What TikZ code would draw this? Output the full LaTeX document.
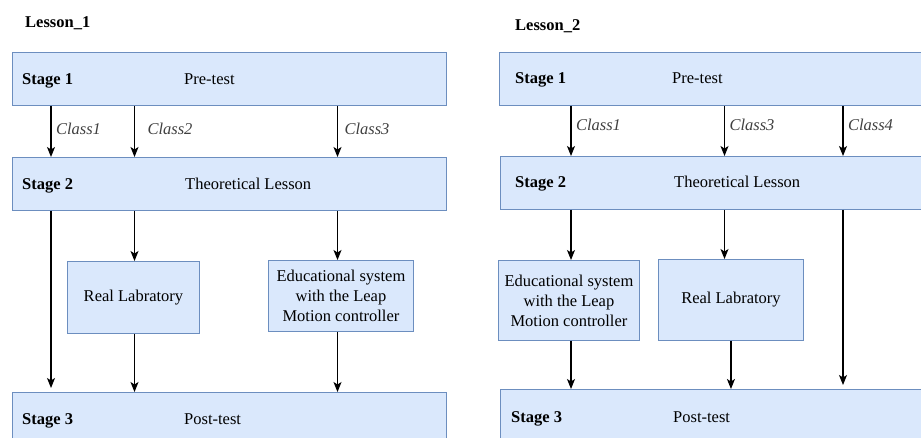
\documentclass[tikz,border=0pt]{standalone}
\usepackage{fontspec}
\setmainfont{Liberation Serif}
\usetikzlibrary{arrows.meta}
\definecolor{boxfill}{HTML}{DAE8FC}
\definecolor{boxline}{HTML}{6C8EBF}
\begin{document}
\begin{tikzpicture}[x=1pt,y=-1pt,
    every node/.style={font=\fontsize{16.5}{20}\selectfont},
    stage/.style={draw=boxline,fill=boxfill,line width=0.9pt,anchor=north west,
      inner sep=0pt,minimum height=60pt},
    block/.style={draw=boxline,fill=boxfill,line width=0.9pt,anchor=north west,
      inner sep=0pt,align=center},
    lbl/.style={anchor=base west,inner sep=0pt},
    cls/.style={midway,anchor=west,inner sep=0pt,xshift=4.5pt,yshift=3pt,
      font=\fontsize{16.5}{20}\selectfont\itshape,text=black!75},
    arr/.style={-{Stealth[length=10pt,width=8pt,inset=2.5pt]},line width=1.1pt}]
  \useasboundingbox (0,0) rectangle (921,438);
  \clip (0,0) rectangle (921,438);

  % Lesson 1
  \node[lbl,font=\fontsize{16.5}{20}\selectfont\bfseries] (l1) at (25,28) {Lesson\_1};
  \node[stage,minimum width=434pt,minimum height=53pt] (l1s1) at (12,52) {};
  \node[stage,minimum width=434pt,minimum height=53pt] (l1s2) at (12,157) {};
  \node[stage,minimum width=434pt] (l1s3) at (12,392) {};
  \node[block,minimum width=132pt,minimum height=72pt] (l1real) at (67,261) {Real Labratory};
  \node[block,minimum width=145pt,minimum height=71pt] (l1edu) at (268,260)
    {Educational system\\with the Leap\\Motion controller};
  \node[lbl,font=\fontsize{16.5}{20}\selectfont\bfseries] (l1s1a) at (22,85) {Stage 1};
  \node[lbl] (l1s1b) at (184,85) {Pre-test};
  \node[lbl,font=\fontsize{16.5}{20}\selectfont\bfseries] (l1s2a) at (22,190) {Stage 2};
  \node[lbl] (l1s2b) at (185,190) {Theoretical Lesson};
  \node[lbl,font=\fontsize{16.5}{20}\selectfont\bfseries] (l1s3a) at (22,424) {Stage 3};
  \node[lbl] (l1s3b) at (184,424) {Post-test};
  \coordinate (l1c1) at (51,0);
  \coordinate (l1c2) at (134.5,0);
  \coordinate (l1c3) at (337.5,0);

  % Lesson 2
  \node[lbl,font=\fontsize{16.5}{20}\selectfont\bfseries] (l2) at (515,31) {Lesson\_2};
  \node[stage,minimum width=440pt,minimum height=53pt] (l2s1) at (499,52) {};
  \node[stage,minimum width=440pt,minimum height=53pt] (l2s2) at (500,156) {};
  \node[stage,minimum width=440pt] (l2s3) at (500,389) {};
  \node[block,minimum width=141pt,minimum height=80pt] (l2edu) at (498,260)
    {Educational system\\with the Leap\\Motion controller};
  \node[block,minimum width=145pt,minimum height=81pt] (l2real) at (658,259) {Real Labratory};
  \node[lbl,font=\fontsize{16.5}{20}\selectfont\bfseries] (l2s1a) at (515,84) {Stage 1};
  \node[lbl] (l2s1b) at (672,84) {Pre-test};
  \node[lbl,font=\fontsize{16.5}{20}\selectfont\bfseries] (l2s2a) at (515,188) {Stage 2};
  \node[lbl] (l2s2b) at (674,188) {Theoretical Lesson};
  \node[lbl,font=\fontsize{16.5}{20}\selectfont\bfseries] (l2s3a) at (511,422) {Stage 3};
  \node[lbl] (l2s3b) at (673,422) {Post-test};
  \coordinate (l2c1) at (571,0);
  \coordinate (l2c2) at (724.5,0);
  \coordinate (l2c3) at (843,0);

  \begin{scope}[arr]
    \draw (l1s1.south -| l1c1) -- node[cls] (k11) {Class1} (l1s2.north -| l1c1);
    \draw (l1s1.south -| l1c2) -- node[cls,xshift=8pt] (k12) {Class2} (l1s2.north -| l1c2);
    \draw (l1s1.south -| l1c3) -- node[cls,xshift=2pt] (k13) {Class3} (l1s2.north -| l1c3);
    \draw[shorten >=4pt] (l1s2.south -| l1c1) -- (l1s3.north -| l1c1);
    \draw (l1s2.south -| l1c2) -- (l1real.north -| l1c2);
    \draw (l1s2.south -| l1c3) -- (l1edu.north -| l1c3);
    \draw (l1real.south -| l1c2) -- (l1s3.north -| l1c2);
    \draw (l1edu.south -| l1c3) -- (l1s3.north -| l1c3);

    \draw (l2s1.south -| l2c1) -- node[cls,yshift=3pt] (k21) {Class1} (l2s2.north -| l2c1);
    \draw (l2s1.south -| l2c2) -- node[cls,yshift=3pt] (k23) {Class3} (l2s2.north -| l2c2);
    \draw (l2s1.south -| l2c3) -- node[cls,yshift=3pt] (k24) {Class4} (l2s2.north -| l2c3);
    \draw (l2s2.south -| l2c1) -- (l2edu.north -| l2c1);
    \draw (l2s2.south -| l2c2) -- (l2real.north -| l2c2);
    \draw[shorten >=4pt] (l2s2.south -| l2c3) -- (l2s3.north -| l2c3);
    \draw (l2edu.south -| l2c1) -- (l2s3.north -| l2c1);
    \draw (l2real.south) -- (l2s3.north -| l2real.south);
  \end{scope}
\end{tikzpicture}
\end{document}
